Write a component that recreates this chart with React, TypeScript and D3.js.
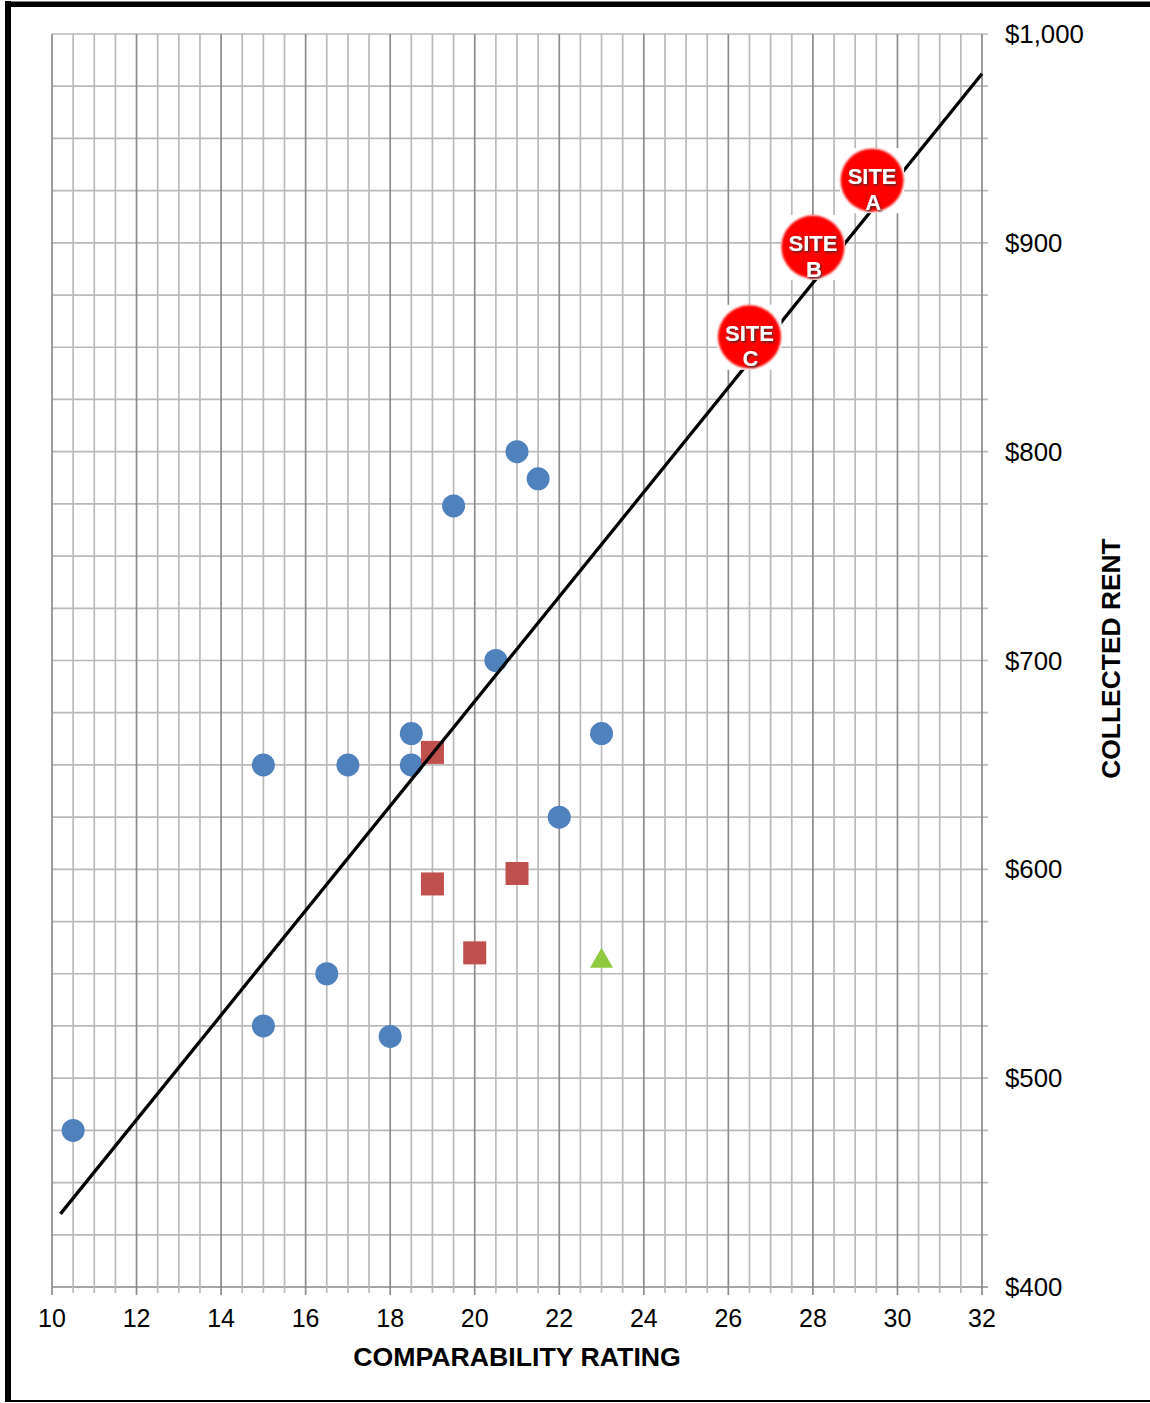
import React from "react";
import * as d3 from "d3";

// Comparable properties: comparability rating vs. collected rent
const compRating = [10.5, 15, 15, 16.5, 17, 18, 18.5, 18.5, 19.5, 20.5, 21, 21.5, 22, 23];
const compRent = [475, 650, 525, 550, 650, 520, 665, 650, 774, 700, 800, 787, 625, 665];

const squareRating = [19, 19, 20, 21];
const squareRent = [656, 593, 560, 598];

const triangleRating = [23];
const triangleRent = [557];

// Subject sites placed on the trend
const siteNames = ["A", "B", "C"];
const siteRating = [29.4, 28, 26.5];
const siteRent = [930, 898, 855];

// Linear trend endpoints
const trendRating = [10.2, 32];
const trendRent = [435, 981];

const xTickLabels = [10, 12, 14, 16, 18, 20, 22, 24, 26, 28, 30, 32];
const yTickLabels = [400, 500, 600, 700, 800, 900, 1000];

const W = 1150;
const H = 1403;
const left = 52;
const right = 982;
const top = 34;
const bottom = 1287;

const FONT = "'Liberation Sans', Arial, Helvetica, sans-serif";

export default function App() {
  const x = d3.scaleLinear().domain([10, 32]).range([left, right]);
  const y = d3.scaleLinear().domain([400, 1000]).range([bottom, top]);

  const xGrid = d3.range(10, 32.001, 0.5);
  const yGrid = d3.range(400, 1000.001, 25);
  const money = d3.format("$,.0f");

  const trendLine = d3
    .line<number>()
    .x((_, i) => x(trendRating[i]))
    .y((d) => y(d))(trendRent);

  const tri = d3.symbol().type(d3.symbolTriangle).size(230)();

  return (
    <svg
      width={W}
      height={H}
      style={{ position: "absolute", left: 0, top: 0, background: "#fff" }}
    >
      <defs>
        <filter id="soft" x="-10%" y="-10%" width="120%" height="120%">
          <feGaussianBlur stdDeviation="0.9" />
        </filter>
        <filter id="emboss" x="-20%" y="-20%" width="140%" height="140%">
          <feDropShadow dx="1.2" dy="1.4" stdDeviation="1" floodColor="#4a2a2a" floodOpacity="1" />
        </filter>
      </defs>

      {/* outer frame */}
      <rect x={5} y={1} width={6} height={1401} fill="#000" />
      <rect x={5} y={1.5} width={W - 5} height={5.5} fill="#000" />
      <rect x={5} y={1400} width={W - 5} height={2} fill="#000" />

      {/* horizontal grid with right-side ticks */}
      {yGrid.map((v) => (
        <line
          key={"h" + v}
          x1={left}
          x2={right + 6}
          y1={y(v)}
          y2={y(v)}
          stroke={v === 400 ? "#8a8a8a" : "#bababa"}
          strokeWidth={1.7}
        />
      ))}

      {/* vertical grid with bottom ticks */}
      {xGrid.map((v) => {
        const major = Math.abs(v % 2) < 1e-9;
        return (
          <line
            key={"v" + v}
            x1={x(v)}
            x2={x(v)}
            y1={top}
            y2={bottom + (major ? 8 : 6)}
            stroke={major ? "#8c8c8c" : "#bababa"}
            strokeWidth={1.7}
          />
        );
      })}

      {/* x tick labels */}
      {xTickLabels.map((v) => (
        <text
          key={"xt" + v}
          x={x(v)}
          y={1327}
          textAnchor="middle"
          fontFamily={FONT}
          fontSize={25}
          fill="#000"
        >
          {v}
        </text>
      ))}

      {/* y tick labels */}
      {yTickLabels.map((v) => (
        <text
          key={"yt" + v}
          x={1005}
          y={y(v) + 9}
          textAnchor="start"
          fontFamily={FONT}
          fontSize={25.8}
          fill="#000"
        >
          {money(v)}
        </text>
      ))}

      {/* axis titles */}
      <text
        x={(left + right) / 2}
        y={1366}
        textAnchor="middle"
        fontFamily={FONT}
        fontSize={26.7}
        fontWeight="bold"
        fill="#000"
      >
        COMPARABILITY RATING
      </text>
      <text
        transform={`translate(1120, ${(top + bottom) / 2 - 2}) rotate(-90)`}
        textAnchor="middle"
        fontFamily={FONT}
        fontSize={26.4}
        fontWeight="bold"
        fill="#000"
      >
        COLLECTED RENT
      </text>

      {/* comparable properties */}
      {compRating.map((r, i) => (
        <circle key={"c" + i} cx={x(r)} cy={y(compRent[i])} r={11.5} fill="#4f81bd" />
      ))}
      {squareRating.map((r, i) => (
        <rect
          key={"s" + i}
          x={x(r) - 11.5}
          y={y(squareRent[i]) - 11.5}
          width={23}
          height={23}
          fill="#c0504d"
        />
      ))}
      {triangleRating.map((r, i) => (
        <path
          key={"t" + i}
          d={tri ?? ""}
          transform={`translate(${x(r)}, ${y(triangleRent[i]) + 2})`}
          fill="#8fc940"
        />
      ))}

      {/* trend line */}
      <path d={trendLine ?? ""} fill="none" stroke="#000" strokeWidth={3.3} />

      {/* subject sites */}
      {siteNames.map((name, i) => {
        const cx = x(siteRating[i]);
        const cy = y(siteRent[i]);
        return (
          <g key={"site" + name}>
            <rect x={cx - 32} y={cy - 32} width={64} height={65} fill="#fff" />
            <circle cx={cx} cy={cy} r={31.5} fill="#ff0000" filter="url(#soft)" />
            <g filter="url(#emboss)" fontFamily={FONT} fontWeight="bold" fontSize={22} fill="#fff" textAnchor="middle">
              <text x={cx} y={cy + 4}>SITE</text>
              <text x={cx + 1} y={cy + 29.5}>{name}</text>
            </g>
          </g>
        );
      })}
    </svg>
  );
}
